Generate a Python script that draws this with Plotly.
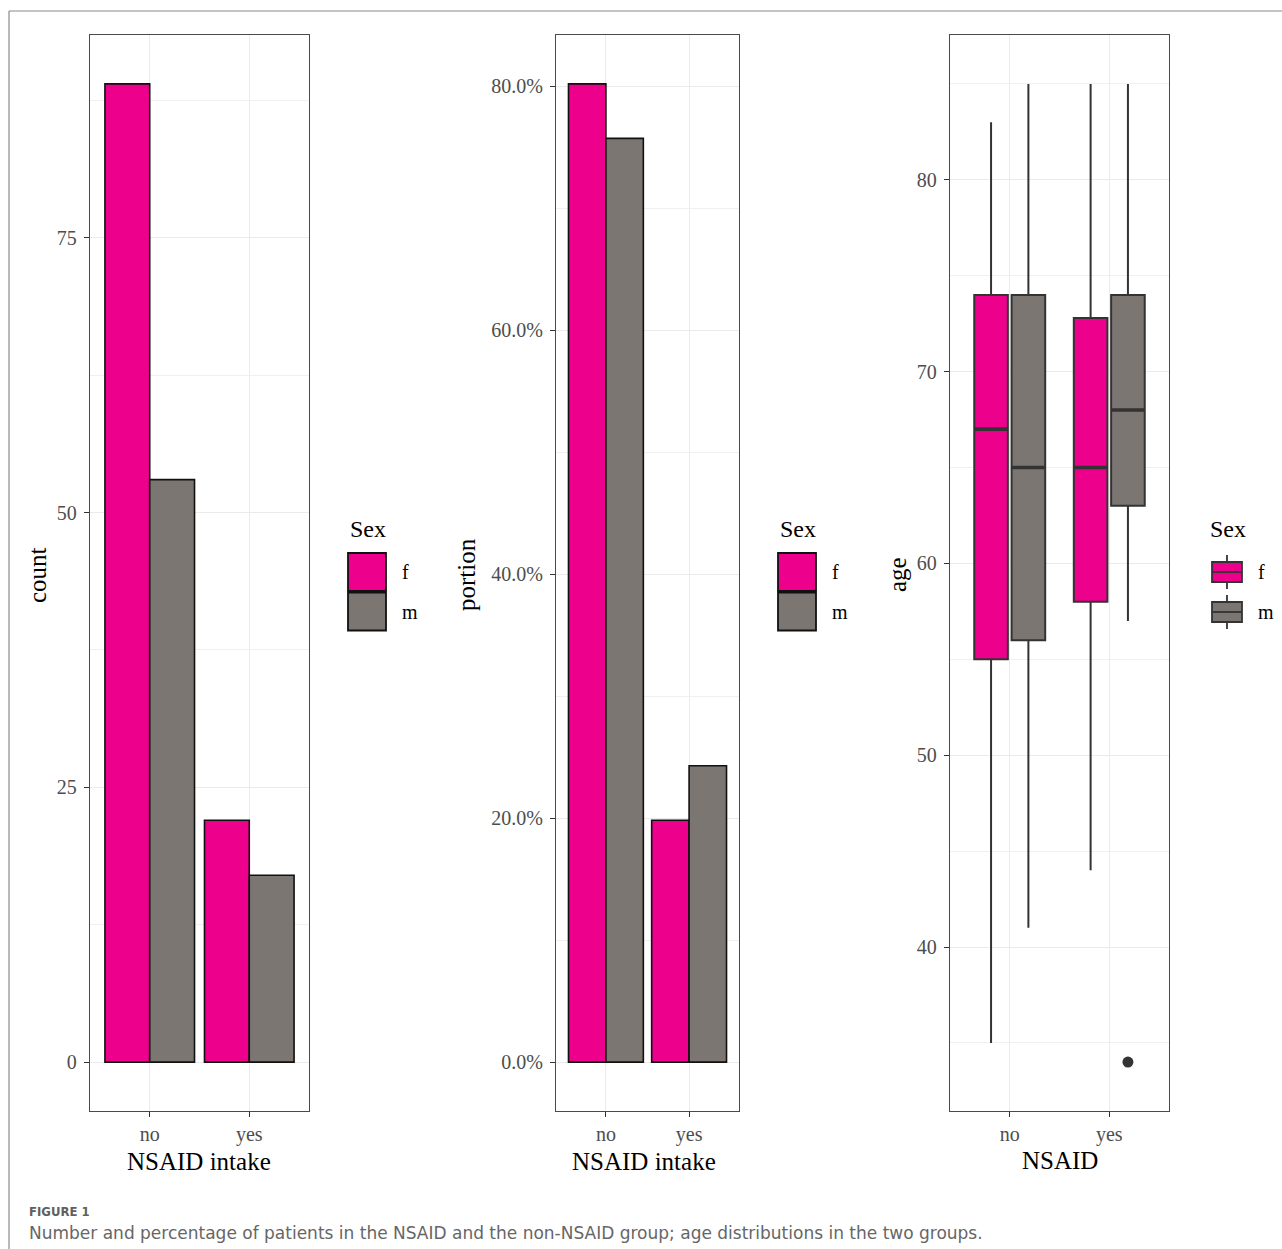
import plotly.graph_objects as go

# ---------------- data ----------------
intake = ["no", "yes"]
sexes = ["f", "m"]
count_f = [89, 22]
count_m = [53, 17]
portion_f = [89 / 111, 22 / 111]
portion_m = [53 / 70, 17 / 70]

# age box statistics (no, yes)
age_f_q1 = [55, 58]
age_f_med = [67, 65]
age_f_q3 = [74, 72.8]
age_f_lo = [35, 44]
age_f_hi = [83, 85]
age_m_q1 = [56, 63]
age_m_med = [65, 68]
age_m_q3 = [74, 74]
age_m_lo = [41, 57]
age_m_hi = [85, 85]
age_m_outlier_x = ["yes"]
age_m_outlier_y = [34]

count_ticks = [0, 25, 50, 75]
portion_ticks = [0, 0.2, 0.4, 0.6, 0.8]
age_ticks = [40, 50, 60, 70, 80]

PINK = "#EC008C"
GREY = "#7B7672"
W, H = 1282, 1249
SERIF = "Liberation Serif, Times New Roman, serif"
BOXLINE = "#333333"


def px(x):
    return x / W


def py(y):
    return 1 - y / H


fig = go.Figure()

# ---- panel 1: counts ----
for vals, nm, col in ((count_f, "f", PINK), (count_m, "m", GREY)):
    fig.add_trace(go.Bar(x=intake, y=vals, name=nm, marker=dict(color=col, line=dict(color="#111", width=1.6)),
                         xaxis="x", yaxis="y", showlegend=False))
# ---- panel 2: portions ----
for vals, nm, col in ((portion_f, "f", PINK), (portion_m, "m", GREY)):
    fig.add_trace(go.Bar(x=intake, y=vals, name=nm, marker=dict(color=col, line=dict(color="#111", width=1.6)),
                         xaxis="x2", yaxis="y2", showlegend=False))

# ---- panel 3: age boxes ----
box_sets = (
    ("f", PINK, age_f_q1, age_f_med, age_f_q3, age_f_lo, age_f_hi),
    ("m", GREY, age_m_q1, age_m_med, age_m_q3, age_m_lo, age_m_hi),
)
for nm, col, q1, med, q3, lo, hi in box_sets:
    fig.add_trace(go.Box(x=intake, q1=q1, median=med, q3=q3, lowerfence=lo, upperfence=hi,
                         name=nm, orientation="v", fillcolor=col, offsetgroup=nm, alignmentgroup="age",
                         line=dict(color=BOXLINE, width=2), whiskerwidth=0, boxpoints=False,
                         xaxis="x3", yaxis="y3", showlegend=False, hoverinfo="skip"))
# thicker median bars (ggplot fatten)
for nm, col, q1, med, q3, lo, hi in box_sets:
    fig.add_trace(go.Box(x=intake, q1=med, median=med, q3=med, lowerfence=med, upperfence=med,
                         name=nm, orientation="v", fillcolor="rgba(0,0,0,0)", offsetgroup=nm,
                         alignmentgroup="age", line=dict(color=BOXLINE, width=3.6), whiskerwidth=0,
                         boxpoints=False, xaxis="x3", yaxis="y3", showlegend=False, hoverinfo="skip"))
# outlier point
fig.add_trace(go.Box(x=age_m_outlier_x, y=age_m_outlier_y, name="m", orientation="v", offsetgroup="m",
                     alignmentgroup="age", fillcolor="rgba(0,0,0,0)", line=dict(color="rgba(0,0,0,0)", width=0),
                     boxpoints="all", pointpos=0, jitter=0, whiskerwidth=0,
                     marker=dict(color=BOXLINE, size=11, line=dict(width=0)),
                     xaxis="x3", yaxis="y3", showlegend=False))

ydom = [py(1111), py(35)]
axis_common = dict(
    showline=True, mirror=True, linecolor="#4a4a4a", linewidth=1.4,
    ticks="outside", ticklen=5, tickwidth=1.4, tickcolor="#333333",
    tickfont=dict(family=SERIF, size=20, color="#4d4d4d"),
    showgrid=True, gridcolor="#EBEBEB", gridwidth=1.3, zeroline=False,
)
xcat = dict(axis_common, type="category", range=[-0.6, 1.6], categoryorder="array", categoryarray=intake)

layout = dict(
    width=W, height=H, margin=dict(l=0, r=0, t=0, b=0),
    paper_bgcolor="white", plot_bgcolor="white",
    barmode="group", bargap=0.1, bargroupgap=0.0,
    boxmode="group", boxgap=0.25, boxgroupgap=0.1,
    showlegend=False,
    xaxis=dict(xcat, domain=[px(90), px(309)], anchor="y"),
    yaxis=dict(axis_common, domain=ydom, anchor="x", range=[-4.45, 93.45], tickvals=count_ticks,
               ticklabelstandoff=3,
               minor=dict(dtick=12.5, tick0=0, showgrid=True, gridcolor="#F0F0F0", gridwidth=0.8, ticks="")),
    xaxis2=dict(xcat, domain=[px(556), px(739)], anchor="y2"),
    yaxis2=dict(axis_common, domain=ydom, anchor="x2", range=[-0.0401, 0.8419], tickvals=portion_ticks,
                tickformat=".1%", ticklabelstandoff=3,
                minor=dict(dtick=0.1, tick0=0, showgrid=True, gridcolor="#F0F0F0", gridwidth=0.8, ticks="")),
    xaxis3=dict(xcat, domain=[px(950), px(1169)], anchor="y3"),
    yaxis3=dict(axis_common, domain=ydom, anchor="x3", range=[31.45, 87.55], tickvals=age_ticks,
                ticklabelstandoff=3,
                minor=dict(dtick=5, tick0=0, showgrid=True, gridcolor="#F0F0F0", gridwidth=0.8, ticks="")),
)
fig.update_layout(**layout)

annotations = []
shapes = []


def text(x, y, s, size, color="#000", xanchor="center", angle=0, family=SERIF):
    annotations.append(dict(x=px(x), y=py(y), xref="paper", yref="paper", text=s, showarrow=False,
                            xanchor=xanchor, yanchor="middle", textangle=angle,
                            font=dict(family=family, size=size, color=color)))


# axis titles
text(37, 575, "count", 25, angle=-90)
text(466, 575, "portion", 25, angle=-90)
text(897, 575, "age", 25, angle=-90)
text(199, 1161, "NSAID intake", 25)
text(644, 1161, "NSAID intake", 25)
text(1060, 1160, "NSAID", 25)

# legends for bar panels
for lx in (348, 778):
    text(lx, 529, "Sex", 24, xanchor="left")
    for i, (lab, col) in enumerate(zip(sexes, [PINK, GREY])):
        y0 = 553 + i * 39.5
        shapes.append(dict(type="rect", xref="paper", yref="paper", x0=px(lx), x1=px(lx + 38),
                           y0=py(y0), y1=py(y0 + 38), fillcolor=col, line=dict(color="#111", width=1.8)))
        text(lx + 52, y0 + 19, lab, 20, xanchor="left")

# legend for box panel
lx = 1208
text(lx, 529, "Sex", 24, xanchor="left")
for i, (lab, col) in enumerate(zip(sexes, [PINK, GREY])):
    yc = 572 + i * 40
    shapes.append(dict(type="line", xref="paper", yref="paper", x0=px(1227), x1=px(1227),
                       y0=py(yc - 17), y1=py(yc + 17), line=dict(color=BOXLINE, width=1.8)))
    shapes.append(dict(type="rect", xref="paper", yref="paper", x0=px(1212), x1=px(1242),
                       y0=py(yc - 10), y1=py(yc + 10), fillcolor=col, line=dict(color=BOXLINE, width=1.8)))
    shapes.append(dict(type="line", xref="paper", yref="paper", x0=px(1212), x1=px(1242),
                       y0=py(yc), y1=py(yc), line=dict(color=BOXLINE, width=1.8)))
    text(1256, yc, lab, 20, xanchor="left")

# outer frame (top and left)
shapes.append(dict(type="line", xref="paper", yref="paper", x0=px(9), x1=1, y0=py(11), y1=py(11),
                   line=dict(color="#8a8a8a", width=1.2)))
shapes.append(dict(type="line", xref="paper", yref="paper", x0=px(9), x1=px(9), y0=py(11), y1=0,
                   line=dict(color="#8a8a8a", width=1.2)))

# caption
text(27, 1211, "<b>FIGURE 1</b>", 13, color="#606060", xanchor="left",
     family="DejaVu Sans Condensed, DejaVu Sans, sans-serif")
text(27, 1233, "Number and percentage of patients in the NSAID and the non-NSAID group; age distributions in the two groups.",
     17, color="#666666", xanchor="left", family="DejaVu Sans, sans-serif")

fig.update_layout(annotations=annotations, shapes=shapes)
fig.write_html("out.html")
